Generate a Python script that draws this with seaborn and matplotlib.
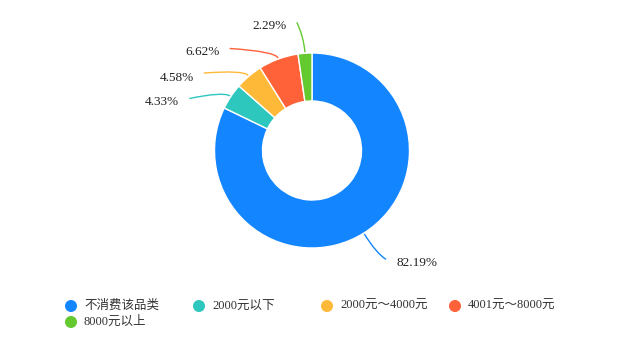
import numpy as np
import matplotlib
matplotlib.use("Agg")
import matplotlib.pyplot as plt
from matplotlib.path import Path
from matplotlib.patches import PathPatch
import seaborn as sns

categories = ["不消费该品类", "2000元以下", "2000元～4000元", "4001元～8000元", "8000元以上"]
values = [82.19, 4.33, 4.58, 6.62, 2.29]
labels = ["82.19%", "4.33%", "4.58%", "6.62%", "2.29%"]
colors = ["#1386FF", "#2EC7BE", "#FFB938", "#FF6139", "#63C92F"]

sns.set_theme(style="white")
plt.rcParams["font.family"] = ["Liberation Serif", "Noto Sans CJK SC", "DejaVu Sans"]

W, H = 625, 355
fig = plt.figure(figsize=(W / 100, H / 100), dpi=100)
ax = fig.add_axes([0, 0, 1, 1])
cx, cy, R = 312, H - 150.5, 97.5
wedges, _ = ax.pie(values, colors=sns.color_palette(colors), startangle=90, counterclock=False,
                   center=(cx, cy), radius=R,
                   wedgeprops=dict(width=48, edgecolor="white", linewidth=1))
ax.set_xlim(0, W)
ax.set_ylim(0, H)
ax.set_aspect("equal")
ax.axis("off")

# leader styling in pixels: (radial length, end dx, end dy (down +), text dy (down +), side)
leader = [(25, 9, 5, 4, 1), (9, -34, 7, 4, -1), (8, -40, 3, 5, -1),
          (8, -46, -3, 4, -1), (16, -7, -15, 4, -1)]
for w, lab, col, (l1, dx, dy, tdy, side) in zip(wedges, labels, colors, leader):
    ang = np.deg2rad((w.theta1 + w.theta2) / 2)
    d = np.array([np.cos(ang), np.sin(ang)])
    p0 = np.array([cx, cy]) + d * (R + 1)
    p1 = np.array([cx, cy]) + d * (R + l1)
    p2 = p1 + np.array([dx, -dy])
    path = Path([p0, p1, p2], [Path.MOVETO, Path.CURVE3, Path.CURVE3])
    ax.add_patch(PathPatch(path, facecolor="none", edgecolor=col, lw=1))
    ax.text(p2[0] + side * 10, p2[1] - tdy, lab, ha="left" if side > 0 else "right", va="center",
            fontsize=9.5, color="#222222")

# legend
lx = [71, 199, 327, 455, 71]
ly = [306, 306, 306, 306, 322]
for x, y, c, cat in zip(lx, ly, colors, categories):
    ax.scatter([x], [H - y], s=75, color=c, edgecolors="none")
    ax.text(x + 13, H - y, cat, va="center", ha="left", fontsize=9, color="#333333")

fig.savefig("out.png", dpi=100)
